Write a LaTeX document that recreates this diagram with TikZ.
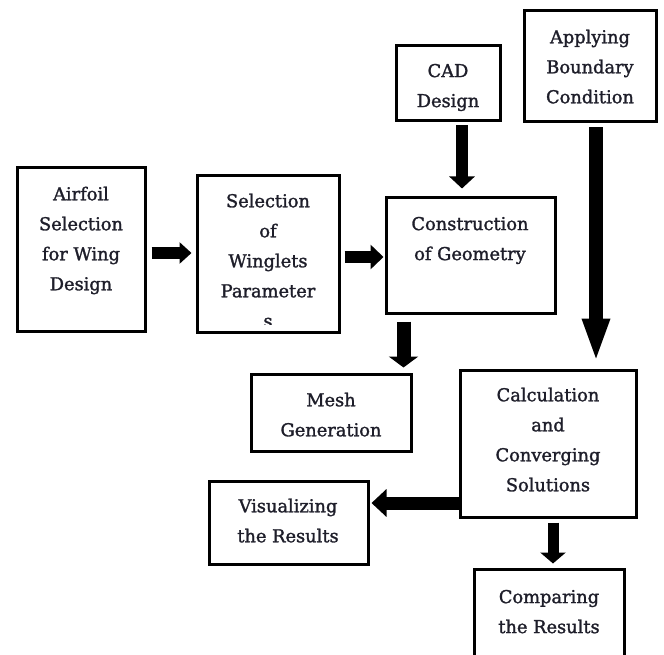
\documentclass[tikz,border=0pt]{standalone}
\usepackage{fontspec}
\setmainfont{DejaVu Serif}[FakeBold=1.5]
\usetikzlibrary{arrows.meta}
\definecolor{txt}{HTML}{1E1E2A}
\begin{document}
\begin{tikzpicture}[x=1pt,y=-1pt,
  box/.style={draw=black, line width=3pt, fill=white, inner sep=0pt},
  lbl/.style={align=center, text=txt, inner sep=0pt,
    font=\fontsize{17.8}{30}\selectfont,
    execute at begin node=\strut, execute at end node=\strut},
  flow/.style={line width=12pt, black}
]
\useasboundingbox (0,0) rectangle (664,655);
\clip (0,0) rectangle (664,655);

% boxes
\node[box, minimum width=128pt, minimum height=163pt] (air)  at (81,249.5) {};
\node[box, minimum width=142pt, minimum height=156pt] (sel)  at (268,254) {};
\node[box, minimum width=104pt, minimum height=75pt]  (cad)  at (448,83.5) {};
\node[box, minimum width=132pt, minimum height=111pt] (bnd)  at (590,66.5) {};
\node[box, minimum width=169pt, minimum height=115pt] (con)  at (470.5,255.5) {};
\node[box, minimum width=160pt, minimum height=77pt]  (mesh) at (331,412.5) {};
\node[box, minimum width=176pt, minimum height=147pt] (calc) at (548,443.5) {};
\node[box, minimum width=159pt, minimum height=83pt]  (vis)  at (288.5,522.5) {};
\node[box, minimum width=150pt, minimum height=131pt] (comp) at (549,634.5) {};

% texts
\node[lbl] (airt)  at (81,243)  {Airfoil\\Selection\\for Wing\\Design};
\begin{scope}
  \clip (190,170) rectangle (346,324.5);
  \node[lbl] (selt) at (268,265) {Selection\\of\\Winglets\\Parameter\\s};
\end{scope}
\node[lbl] (cadt)  at (448,90)  {CAD\\Design};
\node[lbl] (bndt)  at (590,71)  {Applying\\Boundary\\Condition};
\node[lbl] (cont)  at (470,243) {Construction\\of Geometry};
\node[lbl] (mesht) at (331,419) {Mesh\\Generation};
\node[lbl] (calct) at (548,444) {Calculation\\and\\Converging\\Solutions};
\node[lbl] (vist)  at (288,525) {Visualizing\\the Results};
\node[lbl] (compt) at (549,616) {Comparing\\the Results};

% arrows
\draw[flow, line width=11pt, -{Triangle[length=12pt,width=21pt]}, shorten <=5pt, shorten >=4pt]
  ([yshift=-3.5pt]air.east) -- ([yshift=-3.5pt]air.east -| sel.west);
\draw[flow, line width=12pt, -{Triangle[length=13pt,width=24pt]}, shorten <=4pt, shorten >=1pt]
  ([yshift=-3pt]sel.east) -- ([yshift=-3pt]sel.east -| con.west);
\draw[flow, line width=12pt, -{Triangle[length=12pt,width=25pt]}, shorten <=3pt, shorten >=8pt]
  ([xshift=14pt]cad.south) -- ([xshift=14pt]cad.south |- con.north);
\draw[flow, line width=14pt, -{Triangle[length=11pt,width=29pt]}, shorten <=7pt, shorten >=5pt]
  ([xshift=19pt]con.south west) -- ([xshift=19pt]con.south west |- mesh.north);
\draw[flow, line width=14pt, -{Triangle[length=44pt,width=25pt]}, shorten <=4pt, shorten >=6pt]
  ([xshift=6pt]bnd.south) -- ([xshift=6pt]bnd.south |- calc.north);
\draw[flow, line width=13pt, -{Triangle[length=15pt,width=27pt]}, shorten <=0pt, shorten >=2pt]
  ([yshift=-59.5pt]calc.west) -- ([yshift=-59.5pt]calc.west -| vis.east);
\draw[flow, line width=11pt, -{Triangle[length=11pt,width=25pt]}, shorten <=4pt, shorten >=4pt]
  ([xshift=5pt]calc.south) -- ([xshift=5pt]calc.south |- comp.north);
\end{tikzpicture}
\end{document}
